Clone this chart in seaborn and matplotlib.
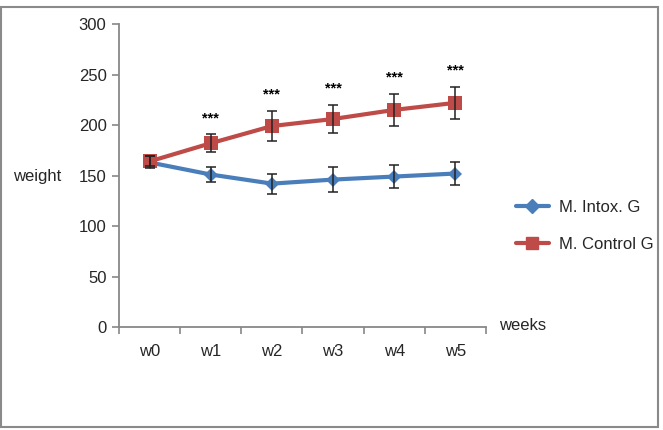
import numpy as np
import pandas as pd
import matplotlib
matplotlib.use("Agg")
import matplotlib.pyplot as plt
import seaborn as sns
from matplotlib.patches import Rectangle

# Values
weeks = ["w0", "w1", "w2", "w3", "w4", "w5"]
intox_mean = [163, 151, 142, 146, 149, 152]
intox_err = [6, 7, 10, 12, 11, 11]
control_mean = [164, 182, 199, 206, 215, 222]
control_err = [5, 9, 15, 14, 16, 16]
signif = ["", "***", "***", "***", "***", "***"]

groups = ["M. Intox. G", "M. Control G"]
colors = {"M. Intox. G": "#4A7EBB", "M. Control G": "#BE4B48"}

df = pd.DataFrame({
    "week": weeks * 2,
    "weight": intox_mean + control_mean,
    "err": intox_err + control_err,
    "group": [groups[0]] * len(weeks) + [groups[1]] * len(weeks),
})

sns.set_theme(style="white")
plt.rcParams["font.family"] = ["Liberation Sans", "DejaVu Sans"]

fig = plt.figure(figsize=(6.63, 4.30), dpi=100)
ax = fig.add_axes([0.1795, 0.2395, 0.5535, 0.7045])

sns.lineplot(data=df, x="week", y="weight", hue="group", style="group",
             hue_order=groups, palette=colors, markers={groups[0]: "D", groups[1]: "s"},
             dashes=False, linewidth=3, markersize=9, markeredgewidth=0,
             legend=False, ax=ax, zorder=2)
# the diamond a bit smaller than the square
ax.lines[0].set_markersize(7.5)
ax.lines[1].set_markersize(10)

x = np.arange(len(weeks))
for g in groups:
    sub = df[df["group"] == g]
    ax.errorbar(x, sub["weight"], yerr=sub["err"], fmt="none", ecolor="#222222",
                elinewidth=1.1, capsize=3.5, capthick=1.1, zorder=3)

ctrl = df[df["group"] == groups[1]].reset_index(drop=True)
for i, s in enumerate(signif):
    if s:
        ax.text(i, ctrl["weight"][i] + ctrl["err"][i] + 16, s, ha="center", va="center",
                fontsize=10.5, fontweight="bold", color="black")

ax.set_ylim(0, 300)
ax.set_yticks([0, 50, 100, 150, 200, 250, 300])
ax.set_xlim(-0.5, len(weeks) - 0.5)
ax.set_xticks(x)
ax.set_xticklabels(weeks)
ax.set_xticks(np.arange(-0.5, len(weeks)), minor=True)
ax.tick_params(axis="x", which="major", length=0, pad=12, labelsize=12)
ax.tick_params(axis="x", which="minor", length=5, width=1.2, color="#888888", bottom=True)
ax.tick_params(axis="y", length=5, width=1.2, color="#888888", left=True, pad=4, labelsize=12)
ax.set_xlabel("")
ax.set_ylabel("")
for side in ["top", "right"]:
    ax.spines[side].set_visible(False)
for side in ["left", "bottom"]:
    ax.spines[side].set_color("#888888")
    ax.spines[side].set_linewidth(1.3)

fig.text(13 / 663, 1 - 177 / 430, "weight", ha="left", va="center", fontsize=12)
fig.text(499 / 663, 1 - 326 / 430, "weeks", ha="left", va="center", fontsize=12)

handles = [
    plt.Line2D([], [], color=colors[groups[0]], marker="D", markersize=7, linewidth=3),
    plt.Line2D([], [], color=colors[groups[1]], marker="s", markersize=9, linewidth=3),
]
fig.legend(handles, groups, loc="upper left", bbox_to_anchor=(0.755, 1 - 185 / 430),
           frameon=False, fontsize=12, handlelength=2.0, labelspacing=1.3,
           handletextpad=0.6)

fig.add_artist(Rectangle((0.002, 0.007), 0.990, 0.977, transform=fig.transFigure,
                         fill=False, edgecolor="#8a8a8a", linewidth=1.5))

fig.savefig("out.png", dpi=100)
